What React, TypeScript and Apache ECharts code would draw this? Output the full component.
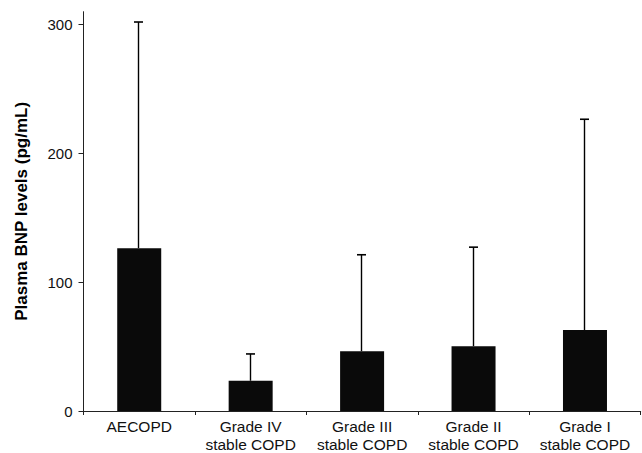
import React, { useEffect, useRef } from "react";
import * as echarts from "echarts";

const categories = ["AECOPD", "Grade IV\nstable COPD", "Grade III\nstable COPD", "Grade II\nstable COPD", "Grade I\nstable COPD"];
const means = [126.4, 23.5, 46.4, 50.3, 62.9];
const upperErrors = [302, 44.3, 121.3, 127.2, 226.5];
const yTicks = [0, 100, 200, 300];

export default function App() {
  const ref = useRef<HTMLDivElement>(null);
  useEffect(() => {
    document.body.style.margin = "0";
    const chart = echarts.init(ref.current!, null, { renderer: "svg" });
    const errData = means.map((m, i) => [i, m, upperErrors[i]]);
    chart.setOption({
      animation: false,
      backgroundColor: "#fff",
      grid: { left: 83.5, right: 1.3, top: 11.7, bottom: 39.7, containLabel: false },
      xAxis: {
        type: "category",
        data: categories,
        axisLine: { lineStyle: { color: "#222", width: 1 } },
        axisTick: { show: true, length: 4, lineStyle: { color: "#222" } },
        axisLabel: {
          color: "#111",
          fontFamily: "Liberation Sans, Arial, sans-serif",
          fontSize: 15.5,
          lineHeight: 18,
          margin: 6,
          interval: 0,
        },
      },
      yAxis: {
        type: "value",
        min: 0,
        max: 310,
        splitLine: { show: false },
        axisLine: { show: true, lineStyle: { color: "#222", width: 1 } },
        axisTick: { show: true, length: 5, customValues: yTicks, lineStyle: { color: "#222" } },
        axisLabel: {
          customValues: yTicks,
          color: "#111",
          fontFamily: "Liberation Sans, Arial, sans-serif",
          fontSize: 15,
          margin: 11,
        },
        name: "Plasma BNP levels (pg/mL)",
        nameLocation: "middle",
        nameRotate: 90,
        nameGap: 54,
        nameTextStyle: {
          color: "#000",
          fontFamily: "Liberation Sans, Arial, sans-serif",
          fontSize: 17,
          fontWeight: "bold",
        },
      },
      series: [
        {
          type: "bar",
          data: means,
          barWidth: 44,
          itemStyle: { color: "#0a0a0a" },
          z: 2,
        },
        {
          type: "custom",
          data: errData,
          z: 1,
          renderItem: (params: any, api: any) => {
            const x = api.value(0);
            const lo = api.coord([x, api.value(1)]);
            const hi = api.coord([x, api.value(2)]);
            const cx = Math.round(lo[0]) - 0.5;
            return {
              type: "group",
              children: [
                {
                  type: "line",
                  shape: { x1: cx, y1: lo[1], x2: cx, y2: hi[1] },
                  style: { stroke: "#000", lineWidth: 1.4 },
                },
                {
                  type: "line",
                  shape: { x1: cx - 4.5, y1: hi[1], x2: cx + 4.5, y2: hi[1] },
                  style: { stroke: "#000", lineWidth: 1.6 },
                },
              ],
            };
          },
        },
      ],
    });
    return () => chart.dispose();
  }, []);
  return <div ref={ref} style={{ width: 642, height: 453 }} />;
}
